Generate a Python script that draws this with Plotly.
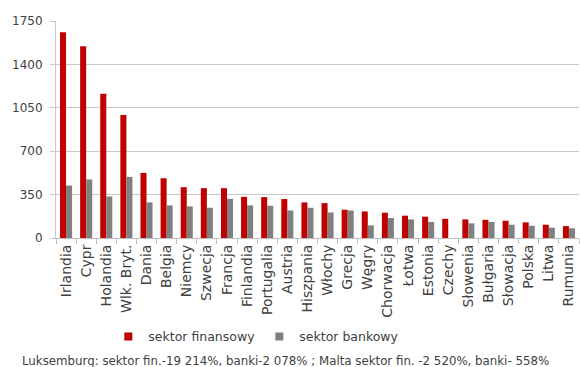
import plotly.graph_objects as go

countries = ["Irlandia", "Cypr", "Holandia", "Wlk. Bryt.", "Dania", "Belgia", "Niemcy",
             "Szwecja", "Francja", "Finlandia", "Portugalia", "Austria", "Hiszpania",
             "Włochy", "Grecja", "Węgry", "Chorwacja", "Łotwa", "Estonia", "Czechy",
             "Słowenia", "Bułgaria", "Słowacja", "Polska", "Litwa", "Rumunia"]
sektor_finansowy = [1659, 1546, 1163, 992, 525, 482, 410, 402, 402, 332, 330, 314, 287,
                    281, 228, 214, 204, 180, 172, 155, 150, 147, 139, 126, 107, 96]
sektor_bankowy = [423, 472, 335, 493, 287, 263, 255, 244, 316, 263, 260, 222, 244,
                  206, 222, 102, 161, 150, 129, None, 118, 129, 107, 99, 83, 78]
y_ticks = [0, 350, 700, 1050, 1400, 1750]
footnote = "Luksemburg: sektor fin.-19 214%, banki-2 078% ; Malta sektor fin. -2 520%, banki- 558%"

RED = "#C00000"
GRAY = "#808080"
FONT = "DejaVu Sans"
TXT = "#404040"

fig = go.Figure()
fig.add_trace(go.Bar(x=countries, y=sektor_finansowy, name="sektor finansowy",
                     marker=dict(color=RED, line=dict(width=0)), showlegend=False))
fig.add_trace(go.Bar(x=countries, y=sektor_bankowy, name="sektor bankowy",
                     marker=dict(color=GRAY, line=dict(width=0)), showlegend=False))
# legend entries with small square symbols
fig.add_trace(go.Scatter(x=[None], y=[None], mode="markers", name="sektor finansowy",
                         marker=dict(symbol="square", size=8, color=RED)))
fig.add_trace(go.Scatter(x=[None], y=[None], mode="markers", name="sektor bankowy",
                         marker=dict(symbol="square", size=8, color=GRAY)))

fig.update_layout(
    width=580, height=367,
    margin=dict(l=56, r=1, t=21, b=129, pad=0, autoexpand=False),
    paper_bgcolor="white", plot_bgcolor="white",
    barmode="group", bargap=0.4, bargroupgap=0,
    font=dict(family=FONT, size=12, color=TXT),
    legend=dict(orientation="h", x=0.1, xanchor="left", y=-0.456, yanchor="middle",
                font=dict(family=FONT, size=12.5, color=TXT), itemwidth=30,
                entrywidth=106, entrywidthmode="pixels",
                bgcolor="rgba(0,0,0,0)", traceorder="normal"),
    annotations=[dict(text=footnote, xref="paper", yref="paper", x=0.438, y=-0.567,
                      xanchor="center", yanchor="middle", showarrow=False,
                      font=dict(family=FONT, size=11.8, color=TXT))],
)
fig.update_xaxes(type="category", tickangle=-90, showline=True, linecolor="#bfbfbf",
                 linewidth=1, ticks="outside", tickson="boundaries", ticklen=5,
                 tickcolor="#bfbfbf", showgrid=False, automargin=False,
                 tickfont=dict(family=FONT, size=14, color=TXT))
fig.update_yaxes(range=[0, 1750], tickvals=y_ticks, showline=True, linecolor="#c8c8c8",
                 ticks="outside", ticklen=5, tickcolor="#c8c8c8", showgrid=True,
                 gridcolor="#c8c8c8", gridwidth=1, zeroline=False, automargin=False,
                 ticklabelstandoff=5,
                 tickfont=dict(family=FONT, size=12, color=TXT))

fig.write_html("out.html", config={"displayModeBar": False},
               post_script="document.body.style.margin='0';document.body.style.overflow='hidden';")
